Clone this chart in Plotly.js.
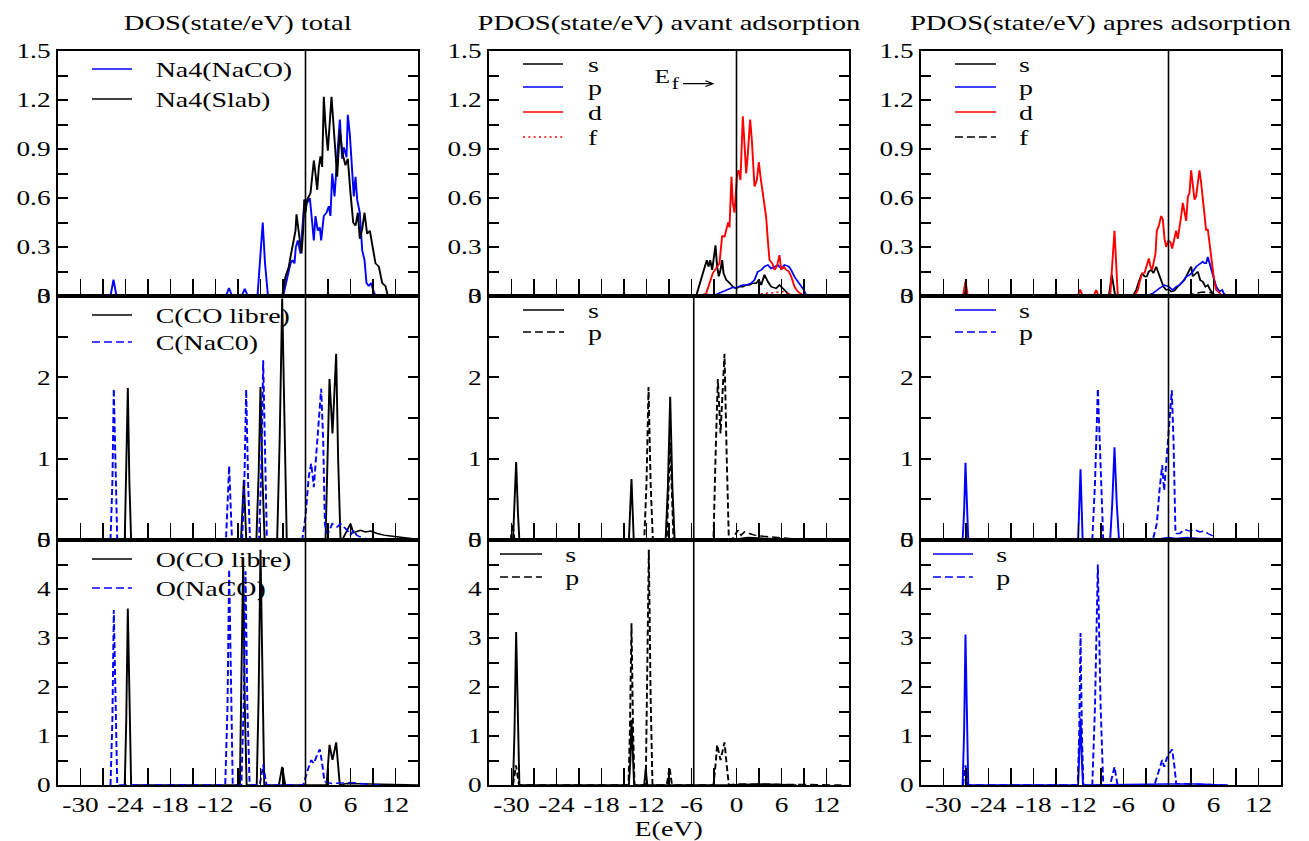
<!DOCTYPE html>
<html><head><meta charset="utf-8">
<script src="https://cdn.plot.ly/plotly-3.0.1.min.js"></script>
<style>
html,body{margin:0;padding:0;background:#fff;overflow:hidden}
#wrap{width:984px;height:841px;transform:scaleX(1.33028);transform-origin:0 0}
#plot{width:984px;height:841px}
</style></head>
<body><div id="wrap"><div id="plot"></div></div>
<script>
// ---------- tick labels ----------
const xTickVals = [-30,-27,-24,-21,-18,-15,-12,-9,-6,-3,0,3,6,9,12];
const xTickText = ['-30','','-24','','-18','','-12','','-6','','0','','6','','12'];
const yTopVals = [0,0.15,0.3,0.45,0.6,0.75,0.9,1.05,1.2,1.35,1.5];
const yTopText = ['0','','0.3','','0.6','','0.9','','1.2','','1.5'];
const yMidVals = [0,0.5,1,1.5,2,2.5,3];
const yMidText = ['0','','1','','2','','3'];
const yBotVals = [0,0.5,1,1.5,2,2.5,3,3.5,4,4.5,5];
const yBotText = ['0','','1','','2','','3','','4','','5'];
const colTitles = ['DOS(state/eV) total','PDOS(state/eV) avant adsorption','PDOS(state/eV) apres adsorption'];
const xTitle = 'E(eV)';
const fermiMain = 'E', fermiSub = 'f';

// ---------- panel 1 : Na4 total DOS ----------
const na4NacoX = [-33,-26.0,-25.6,-25.2,-10.6,-10.2,-9.8,-8.5,-8.1,-7.7,-6.4,-6.0,-5.7,-5.4,-5.0,-2.98,-2.53,-2.22,-2.0,-1.73,-1.47,-1.29,-1.02,-0.67,-0.31,-0.13,0.22,0.58,0.89,1.11,1.33,1.64,1.91,2.09,2.44,2.8,3.11,3.33,3.56,3.87,4.22,4.58,4.89,5.11,5.47,5.64,5.91,6.22,6.44,6.67,6.89,7.24,7.56,7.87,8.13,8.44,8.76,9.02,9.33,15];
const na4NacoY = [0,0,0.10,0,0,0.05,0,0,0.045,0,0,0.22,0.45,0.2,0,0,0.088,0.14,0.20,0.22,0.20,0.30,0.34,0.26,0.45,0.59,0.57,0.60,0.45,0.34,0.49,0.40,0.42,0.34,0.49,0.51,0.55,0.49,0.75,0.61,0.85,1.08,0.84,0.91,0.85,1.11,0.99,0.75,0.61,0.73,0.59,0.51,0.28,0.22,0.08,0.06,0.08,0.037,0,0];
const na4SlabX = [-33,-3.11,-2.67,-2.22,-2.0,-1.78,-1.56,-1.33,-1.2,-0.98,-0.8,-0.53,-0.31,-0.13,0,0.22,0.67,1.11,1.33,1.56,1.78,2.0,2.22,2.44,2.67,2.98,3.47,3.7,3.9,4.05,4.22,4.58,4.89,5.33,5.64,6.0,6.36,6.67,6.98,7.24,7.56,7.87,8.22,8.58,8.89,9.33,9.78,10.22,10.67,10.98,15];
const na4SlabY = [0,0,0.118,0.18,0.24,0.30,0.345,0.40,0.50,0.424,0.38,0.26,0.40,0.59,0.51,0.59,0.63,0.83,0.75,0.65,0.79,0.855,0.79,1.22,1.04,0.89,1.22,1.05,0.95,0.86,0.73,1.02,0.88,0.80,0.84,0.63,0.45,0.43,0.51,0.35,0.41,0.51,0.38,0.40,0.30,0.20,0.18,0.08,0.06,0,0];

// ---------- panel 2 : PDOS before adsorption (Na) ----------
const avSX = [-5.38,-4.71,-4.27,-3.96,-3.73,-3.51,-3.24,-3.07,-2.8,-2.58,-2.36,-2.13,-1.91,-1.73,-1.38,-0.93,-0.49,-0.04,0.4,0.84,1.29,1.73,2.18,2.62,2.98,3.29,3.73,4.18,4.62,5.29,5.73,6.18,6.84,7.51];
const avSY = [0,0.10,0.18,0.22,0.18,0.22,0.16,0.24,0.31,0.18,0.12,0.16,0.22,0.14,0.10,0.08,0.057,0.047,0.057,0.057,0.067,0.067,0.078,0.078,0.098,0.067,0.13,0.088,0.057,0.047,0.067,0.047,0.016,0];
const avPX = [-3.16,-2.27,-1.38,-0.49,-0.04,0.4,0.84,1.29,1.96,2.4,2.84,3.29,3.73,4.18,4.62,5.07,5.51,5.96,6.4,6.98,7.29,7.73,8.18,8.62,8.98,9.29,9.51];
const avPY = [0,0.016,0.037,0.053,0.047,0.061,0.067,0.067,0.078,0.098,0.149,0.159,0.18,0.19,0.169,0.18,0.19,0.169,0.19,0.18,0.159,0.118,0.088,0.057,0.037,0.006,0];
const avDX = [-4.93,-4.04,-3.16,-2.27,-1.91,-1.6,-1.29,-1.11,-0.93,-0.67,-0.49,-0.27,0.09,0.27,0.53,0.84,1.07,1.29,1.51,1.82,2.04,2.4,2.71,2.98,3.2,3.42,3.73,3.96,4.18,4.4,4.76,5.07,5.38,5.73,5.96,6.31,6.62,6.98,7.29,7.73,8.18,8.84,9.29];
const avDY = [0,0.016,0.14,0.20,0.37,0.36,0.42,0.45,0.42,0.73,0.57,0.51,0.75,0.77,0.71,1.10,0.93,0.75,0.87,1.08,0.96,0.67,0.71,0.82,0.73,0.65,0.55,0.48,0.34,0.22,0.20,0.16,0.18,0.25,0.16,0.18,0.16,0.15,0.12,0.057,0.027,0.006,0];
const avFX = [2.62,3.51,4.84,6.18,6.84,7.29];
const avFY = [0,0.016,0.02,0.027,0.016,0];

// ---------- panel 3 : PDOS after adsorption (Na) ----------
const apSX = [-27.3,-27.07,-26.85,-7.95,-7.56,-7.1,-4.76,-4.31,-3.87,-3.51,-3.2,-2.89,-2.62,-2.31,-2.0,-1.64,-1.33,-0.98,-0.67,-0.31,0,0.36,0.8,1.24,1.69,2.13,2.58,3.02,3.24,3.6,3.91,4.22,4.58,4.93,5.24,5.56,5.91,6.36];
const apSY = [0,0.05,0,0,0.13,0,0,0.037,0.098,0.14,0.12,0.12,0.15,0.16,0.14,0.18,0.14,0.10,0.057,0.037,0.041,0.027,0.033,0.057,0.078,0.098,0.14,0.18,0.12,0.14,0.149,0.098,0.088,0.057,0.067,0.037,0.016,0];
const apPX = [-2.98,-2.09,-1.2,-0.53,0,0.58,1.02,1.47,1.91,2.36,2.8,3.24,3.69,4.04,4.36,4.58,4.8,5.02,5.24,5.47,5.69,5.91,6.36,6.8,7.16,7.38,7.69];
const apPY = [0,0.016,0.047,0.067,0.057,0.037,0.057,0.067,0.088,0.118,0.128,0.149,0.18,0.19,0.20,0.21,0.20,0.20,0.24,0.20,0.16,0.12,0.057,0.027,0.037,0.016,0];
const apDX = [-33,-27.4,-27.07,-26.75,-12.1,-11.78,-11.45,-10.0,-9.64,-9.3,-7.78,-7.45,-7.2,-6.98,-6.76,-4.53,-4.09,-3.78,-3.51,-3.2,-2.89,-2.62,-2.4,-2.18,-2.0,-1.73,-1.56,-1.29,-0.98,-0.76,-0.53,-0.31,0,0.27,0.49,0.8,1.02,1.24,1.47,1.69,1.91,2.13,2.36,2.58,2.8,3.02,3.24,3.47,3.69,3.91,4.13,4.36,4.58,4.8,5.02,5.24,5.47,5.69,5.91,6.13,6.36,6.8,7.24];
const apDY = [0,0,0.09,0,0,0.04,0,0,0.037,0,0,0.2,0.40,0.2,0,0,0.037,0.098,0.14,0.14,0.18,0.23,0.18,0.16,0.20,0.26,0.40,0.43,0.49,0.47,0.35,0.30,0.34,0.33,0.29,0.35,0.40,0.35,0.41,0.49,0.57,0.52,0.46,0.61,0.63,0.77,0.69,0.59,0.61,0.69,0.77,0.69,0.59,0.49,0.40,0.41,0.33,0.22,0.14,0.078,0.037,0.016,0];
const apFX = [2.36,3.47,4.58,5.69,6.36];
const apFY = [0,0.016,0.024,0.02,0];

// ---------- panel 4 : C total ----------
const cLibreX = [-24.1,-23.9,-23.69,-23.48,-23.25,-8.6,-8.22,-7.9,-6.55,-6.25,-6.0,-5.75,-5.45,-3.78,-3.45,-3.11,-2.8,-2.5,2.67,2.95,3.2,3.6,4.09,4.35,4.67,4.89,5.56,6.0,6.36,6.67,7.33,8.0,8.67,9.56,10.44,11.33,12.22,13.11,14.0,14.89];
const cLibreY = [0,0.7,1.87,0.7,0,0,0.74,0,0,0.8,1.88,0.8,0,0,1.2,2.97,1.2,0,0,1.0,1.98,1.31,2.29,1.0,0,0,0.12,0.2,0.09,0.10,0.12,0.10,0.11,0.08,0.06,0.05,0.04,0.033,0.02,0.01];
const cNacoX = [-26.0,-25.75,-25.56,-25.35,-25.1,-10.6,-10.18,-9.8,-8.45,-8.15,-7.91,-7.65,-7.4,-6.2,-5.9,-5.64,-5.4,-5.15,-0.44,0,0.44,0.76,1.11,1.47,1.78,2.09,2.36,2.58,2.8,3.11,3.56,4.22,4.67,5.11,5.56,6.0,6.44,6.8,7.24,8.0];
const cNacoY = [0,0.7,1.86,0.7,0,0,0.91,0,0,0.7,1.85,0.7,0,0,0.85,2.21,0.85,0,0,0.29,0.78,0.94,0.65,1.10,1.43,1.86,1.22,0.20,0.08,0.10,0.2,0.16,0.2,0.16,0.12,0.06,0.12,0.06,0.04,0.02];

// ---------- panel 5 : C in free CO (s, p) ----------
const ccSX = [-29.8,-29.6,-29.38,-29.15,-28.95,-14.35,-14.0,-13.7,-9.45,-9.15,-8.84,-8.55,-8.25,-0.4,0.5,1.5,3.0,5.0,7.0,8.5];
const ccSY = [0,0.35,0.96,0.35,0,0,0.75,0,0,0.65,1.76,0.65,0,0,0.02,0.03,0.02,0.015,0.01,0];
const ccPX = [-30.1,-29.85,-29.6,-12.3,-12.0,-11.73,-11.45,-11.15,-9.3,-8.84,-8.4,-3.07,-2.8,-2.49,-2.13,-1.6,-1.3,-1.02,-0.49,0.18,0.62,1.07,1.73,2.4,3.07,4.4,5.73,7.07,8.4,8.84];
const ccPY = [0,0.2,0,0,0.7,1.88,0.7,0,0,1.2,0,0,1.0,1.98,1.31,2.29,1.0,0,0.02,0.12,0.06,0.10,0.08,0.06,0.05,0.04,0.033,0.02,0.008,0];

// ---------- panel 6 : C after adsorption (s, p) ----------
const acSX = [-27.45,-27.25,-27.07,-26.9,-26.7,-12.05,-11.73,-11.45,-7.78,-7.5,-7.2,-6.9,-6.6,-2.2,-1.0,0,1.0,2.5,4.0,5.5,6.3];
const acSY = [0,0.35,0.95,0.35,0,0,0.87,0,0,0.45,1.14,0.45,0,0,0.02,0.03,0.02,0.03,0.02,0.02,0];
const acPX = [-10.16,-9.8,-9.42,-9.05,-8.7,-2.09,-1.56,-1.2,-0.84,-0.58,-0.31,0,0.22,0.44,0.67,0.93,1.5,2.13,2.8,3.47,4.13,4.8,5.24,5.91,6.36];
const acPY = [0,0.7,1.86,0.7,0,0,0.2,0.61,0.92,0.61,0.94,1.43,1.55,1.84,1.22,0.08,0.08,0.13,0.11,0.13,0.10,0.11,0.08,0.05,0];

// ---------- panel 7 : O total ----------
const oLibreX = [-24.1,-23.9,-23.69,-23.48,-23.25,-8.75,-8.55,-8.31,-8.1,-7.85,-6.5,-6.25,-6.0,-5.75,-5.5,-3.55,-3.11,-2.7,2.8,3.0,3.2,3.6,4.09,4.35,4.58,5.5,8.0,11.0,15.0];
const oLibreY = [0,1.3,3.6,1.3,0,0,1.7,4.64,1.7,0,0,1.8,4.8,1.8,0,0,0.37,0,0,0.4,0.82,0.51,0.87,0.4,0,0.03,0.02,0.01,0];
const oNacoX = [-26.0,-25.75,-25.56,-25.35,-25.1,-10.7,-10.4,-10.18,-9.95,-9.7,-8.55,-8.25,-8.0,-7.75,-7.45,-6.1,-5.64,-5.2,-0.31,0.13,0.44,0.76,1.11,1.47,1.91,2.22,2.53,3.5,6.0,8.0,10.0];
const oNacoY = [0,1.3,3.57,1.3,0,0,1.6,4.4,1.6,0,0,1.6,4.36,1.6,0,0,0.41,0,0,0.24,0.37,0.51,0.44,0.58,0.73,0.44,0.07,0.03,0.05,0.02,0];

// ---------- panel 8 : O in free CO (s, p) ----------
const ooSX = [-29.8,-29.6,-29.38,-29.15,-28.95,-14.35,-14.15,-14.0,-13.85,-13.65,-12.3,-12.1,-11.9,-1.0,3.0,8.0];
const ooSY = [0,1.1,3.12,1.1,0,0,0.5,1.33,0.5,0,0,0.34,0,0,0.02,0];
const ooPX = [-29.8,-29.4,-29.0,-14.4,-14.2,-14.0,-13.8,-13.6,-12.1,-11.9,-11.69,-11.45,-11.2,-9.3,-8.93,-8.6,-3.07,-2.8,-2.58,-2.13,-1.6,-1.3,-1.02,0,3.0,6.0,9.0,14.0];
const ooPY = [0,0.4,0,0,1.2,3.3,1.2,0,0,1.8,4.8,1.8,0,0,0.36,0,0,0.4,0.82,0.51,0.87,0.4,0,0.02,0.02,0.015,0.01,0];

// ---------- panel 9 : O after adsorption (s, p) ----------
const aoSX = [-27.45,-27.25,-27.07,-26.9,-26.7,-12.05,-11.9,-11.73,-11.55,-11.4,0,4.0,7.0];
const aoSY = [0,1.1,3.07,1.1,0,0,0.5,1.36,0.5,0,0.02,0.02,0];
const aoPX = [-27.4,-27.07,-26.75,-12.1,-11.9,-11.73,-11.55,-11.35,-10.16,-9.8,-9.42,-9.05,-8.7,-7.78,-7.2,-6.8,-1.87,-1.29,-0.84,-0.58,-0.22,0.13,0.49,0.8,1.02,3.0,6.0,8.0];
const aoPY = [0,0.4,0,0,1.1,3.1,1.1,0,0,1.6,4.5,1.6,0,0,0.37,0,0,0.27,0.51,0.37,0.55,0.65,0.73,0.37,0.03,0.02,0.015,0];

// reference (Fermi) lines per panel
const fermiX = [0,0,0, 0,-5.7,0, 0,-5.7,0];

// ---------- styling / layout ----------
const FONT = "'Liberation Serif', 'Times New Roman', serif";
const BLUE = '#0000ff', RED = '#ff0000', BLACK = '#000000';
const DASH = '6px,3px', DOT = '1.5px,2.5px';
const FW = 1309, FH = 841;
const fx = p => p / FW, fy = p => 1 - p / FH;
const colPx = [[58,418],[489,849],[921,1281]];
const rowPx = [[51,296],[296,540],[540,785]];

const series = [
  {p:1, x:na4NacoX, y:na4NacoY, c:BLUE, d:'solid', name:'Na4(NaCO)'},
  {p:1, x:na4SlabX, y:na4SlabY, c:BLACK, d:'solid', name:'Na4(Slab)'},
  {p:2, x:avSX, y:avSY, c:BLACK, d:'solid', name:'s'},
  {p:2, x:avPX, y:avPY, c:BLUE, d:'solid', name:'p'},
  {p:2, x:avDX, y:avDY, c:RED, d:'solid', name:'d'},
  {p:2, x:avFX, y:avFY, c:RED, d:DOT, name:'f'},
  {p:3, x:apSX, y:apSY, c:BLACK, d:'solid', name:'s'},
  {p:3, x:apPX, y:apPY, c:BLUE, d:'solid', name:'p'},
  {p:3, x:apDX, y:apDY, c:RED, d:'solid', name:'d'},
  {p:3, x:apFX, y:apFY, c:BLACK, d:DASH, name:'f'},
  {p:4, x:cLibreX, y:cLibreY, c:BLACK, d:'solid', name:'C(CO libre)'},
  {p:4, x:cNacoX, y:cNacoY, c:BLUE, d:DASH, name:'C(NaC0)'},
  {p:5, x:ccSX, y:ccSY, c:BLACK, d:'solid', name:'s'},
  {p:5, x:ccPX, y:ccPY, c:BLACK, d:DASH, name:'p'},
  {p:6, x:acSX, y:acSY, c:BLUE, d:'solid', name:'s'},
  {p:6, x:acPX, y:acPY, c:BLUE, d:DASH, name:'p'},
  {p:7, x:oLibreX, y:oLibreY, c:BLACK, d:'solid', name:'O(CO libre)'},
  {p:7, x:oNacoX, y:oNacoY, c:BLUE, d:DASH, name:'O(NaCO)'},
  {p:8, x:ooSX, y:ooSY, c:BLACK, d:'solid', name:'s'},
  {p:8, x:ooPX, y:ooPY, c:BLACK, d:DASH, name:'p'},
  {p:9, x:aoSX, y:aoSY, c:BLUE, d:'solid', name:'s'},
  {p:9, x:aoPX, y:aoPY, c:BLUE, d:DASH, name:'p'}
];

// legend placement per panel: [sampleX0, sampleX1, textX, rowYs]
const legendPos = {
  1:[92,132,153,[69,99]],
  2:[523,563,585,[64,87,112,137]],
  3:[955,996,1017,[64,87,112,137]],
  4:[92,132,153,[315,342]],
  5:[523,564,585,[310,332]],
  6:[955,996,1017,[310,332]],
  7:[92,132,153,[559,588]],
  8:[500,542,563,[554,577]],
  9:[933,973,994,[554,577]]
};

const traces = series.map(s => ({
  type:'scatter', mode:'lines', x:s.x, y:s.y, name:s.name,
  xaxis: s.p===1?'x':'x'+s.p, yaxis: s.p===1?'y':'y'+s.p,
  line:{color:s.c, width:1.45, dash:s.d}, hoverinfo:'skip', showlegend:false
}));

const layout = {
  width:984, height:841, margin:{l:0,r:0,t:0,b:0},
  paper_bgcolor:'#fff', plot_bgcolor:'#fff', showlegend:false,
  font:{family:FONT, color:'#000'},
  annotations:[], shapes:[]
};
const tickFont = {family:FONT, size:20.5, color:'#000'};
for (let n=1; n<=9; n++){
  const r = Math.floor((n-1)/3), c = (n-1)%3;
  const xs = n===1?'':n, ys = n===1?'':n;
  const yv = [yTopVals,yMidVals,yBotVals][r], yt = [yTopText,yMidText,yBotText][r];
  const yr = [[0,1.5],[0,3],[0,5]][r];
  layout['xaxis'+xs] = {
    domain:[fx(colPx[c][0]), fx(colPx[c][1])], anchor:'y'+ys, range:[-33,15],
    tickmode:'array', tickvals:xTickVals, ticktext:xTickText, showticklabels:r===2,
    ticks:'inside', ticklen:17, tickwidth:1.4, tickcolor:'#000',
    showline:true, linecolor:'#000', linewidth:2, mirror:true,
    showgrid:false, zeroline:false, tickfont:tickFont, fixedrange:true
  };
  layout['yaxis'+ys] = {
    domain:[fy(rowPx[r][1]), fy(rowPx[r][0])], anchor:'x'+xs, range:yr,
    tickmode:'array', tickvals:yv, ticktext:yt,
    ticks:'inside', ticklen:7.5, tickwidth:2, tickcolor:'#000',
    showline:true, linecolor:'#000', linewidth:1.5, mirror:'ticks',
    showgrid:false, zeroline:false, tickfont:tickFont, fixedrange:true
  };
  // Fermi level line
  layout.shapes.push({type:'line', xref:'x'+xs, yref:'y'+ys+' domain', x0:fermiX[n-1], x1:fermiX[n-1], y0:0, y1:1,
    line:{color:'#000', width:1.2}});
  // legend
  const lp = legendPos[n];
  series.filter(s=>s.p===n).forEach((s,i)=>{
    const yy = lp[3][i];
    layout.shapes.push({type:'line', xref:'paper', yref:'paper', x0:fx(lp[0]), x1:fx(lp[1]), y0:fy(yy), y1:fy(yy),
      line:{color:s.c, width:1.45, dash:s.d}});
    layout.annotations.push({xref:'paper', yref:'paper', x:fx(lp[2]), y:fy(yy+1), xanchor:'left', yanchor:'middle',
      text:s.name, showarrow:false, font:{family:FONT, size:21, color:'#000'}});
  });
}
// column titles
colTitles.forEach((t,c)=>{
  layout.annotations.push({xref:'paper', yref:'paper', x:fx((colPx[c][0]+colPx[c][1])/2), y:fy(23),
    xanchor:'center', yanchor:'middle', text:t, showarrow:false, font:{family:FONT, size:21.5, color:'#000'}});
});
// x title
layout.annotations.push({xref:'paper', yref:'paper', x:fx(669), y:fy(829), xanchor:'center', yanchor:'middle',
  text:xTitle, showarrow:false, font:{family:FONT, size:21, color:'#000'}});
// Fermi label in panel 2: "E" with a lowered "f", the arrow starting after the "f"
layout.annotations.push({xref:'x2', yref:'y2', x:-9.93, y:1.344, xanchor:'center', yanchor:'middle',
  text:fermiMain, showarrow:false, font:{family:FONT, size:19, color:'#000'}});
layout.annotations.push({xref:'x2', yref:'y2', x:-2.93, y:1.30, axref:'x2', ayref:'y2', ax:-8.1, ay:1.30,
  text:fermiSub, showarrow:true, arrowhead:5, arrowsize:1, arrowwidth:1.1, arrowcolor:'#000',
  standoff:0, startstandoff:1, font:{family:FONT, size:16, color:'#000'}});

Plotly.newPlot('plot', traces, layout, {staticPlot:true, displayModeBar:false});
</script></body></html>
